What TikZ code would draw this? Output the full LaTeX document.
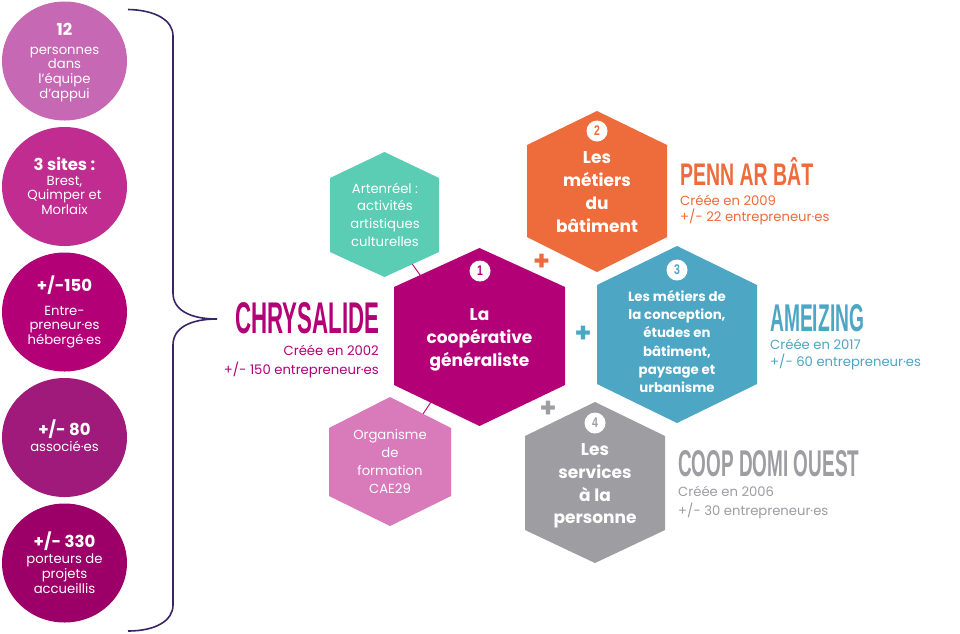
\documentclass[tikz,border=0pt]{standalone}
\usepackage{fontspec}
\usepackage{graphicx}
\setmainfont{Poppins}
\newfontfamily\titlefont{Liberation Sans}[UprightFont=* Bold]
\definecolor{cA}{HTML}{C768B5}
\definecolor{cB}{HTML}{C02C90}
\definecolor{cC}{HTML}{B30077}
\definecolor{cD}{HTML}{A01A7B}
\definecolor{cE}{HTML}{9C0068}
\definecolor{tealH}{HTML}{5BCDB5}
\definecolor{pinkH}{HTML}{D97ABB}
\definecolor{orangeH}{HTML}{EE6B3B}
\definecolor{blueH}{HTML}{4CA6C4}
\definecolor{grayH}{HTML}{9D9DA2}
\definecolor{braceC}{HTML}{3A2468}
\newcommand{\hexa}[9]{\fill[#2] (#3,#6)--(#5,#7)--(#5,#8)--(#3,#9)--(#4,#8)--(#4,#7)--cycle;\coordinate (#1) at (#3,{(#6+#9)/2});}
\newcommand{\fnt}[2]{\fontsize{#1}{#2}\selectfont}
\newcommand{\tl}[1]{{\bfseries\fnt{16.5}{16.5}#1}}
\newcommand{\dg}[1]{\scalebox{0.75}[1]{#1}}
\usetikzlibrary{shapes.geometric}
\tikzset{
 x=1pt,y=-1pt,
 bubble/.style={ellipse,fill=#1,minimum width=125pt,minimum height=119pt,inner sep=0pt},
 ctext/.style={text=white,align=center,inner sep=0pt,font=\fnt{13.2}{14.7}},
 hbold/.style={text=white,align=center,inner sep=0pt,font=\bfseries\fnt{17}{22.8}},
 hreg/.style={text=white,align=center,inner sep=0pt,font=\fnt{13.2}{17.7}},
 sub/.style={inner sep=0pt,font=\fnt{13.2}{18.5},text=#1},
 badge/.style={circle,fill=white,minimum size=21pt,inner sep=0pt,text=#1,font=\titlefont\fnt{14}{14}},
 plus/.style={inner sep=0pt,text=#1,font=\bfseries\fnt{27}{27}},
 title/.style={inner sep=0pt,text=#1,anchor=north west},
 link/.style={draw=cC,line width=0.9pt},
}
\begin{document}
\begin{tikzpicture}
\useasboundingbox (0,0) rectangle (960,633);
\fill[white] (0,0) rectangle (960,633);
% bubbles
\node[bubble=cA] (b1) at (64.5,61) {};
\node[bubble=cB] (b2) at (64.5,186.5) {};
\node[bubble=cC] (b3) at (64.5,312) {};
\node[bubble=cD] (b4) at (64.5,437.5) {};
\node[bubble=cE] (b5) at (64.5,563) {};
\node[ctext] (t1) at (64.5,62.5) {\tl{12}\\[4pt]personnes\\dans\\l’équipe\\d’appui};
\node[ctext] (t2) at (64.5,186) {\tl{3 sites :}\\Brest,\\Quimper et\\Morlaix};
\node[ctext] (t3) at (64.5,312) {\tl{+/-150}\\[9pt]Entre-\\preneur·es\\hébergé·es};
\node[ctext] (t4) at (64.5,436) {\tl{+/- 80}\\[1pt]associé·es};
\node[ctext] (t5) at (64.5,562.5) {\tl{+/- 330}\\[1.5pt]porteurs de\\projets\\accueillis};
% brace
\coordinate (brT) at (128,9.5);
\coordinate (brM) at (217,319);
\coordinate (brB) at (128,631);
\draw[braceC,line width=1.6pt] (brT) .. controls (155,10) and (173,20) .. (173,36) -- (173,293) .. controls (173,310) and (190,319) .. (brM) .. controls (190,319) and (173,328) .. (173,345) -- (173,605) .. controls (173,621) and (155,631) .. (brB);
% connectors
\coordinate (lkA) at (411.5,263);
\coordinate (lkB) at (421.5,277);
\coordinate (lkC) at (423,414);
\coordinate (lkD) at (431,402);
\draw[link] (lkA) -- (lkB);
\draw[link] (lkC) -- (lkD);
% hexagons
\hexa{hTeal}{tealH}{384.5}{330}{439}{152}{178}{252}{277}
\hexa{hPink}{pinkH}{390}{329}{451}{397}{428}{496}{526}
\hexa{hMain}{cC}{479.5}{394}{565}{248}{287}{385}{426}
\hexa{hOrange}{orangeH}{597}{527}{667}{111}{145}{237}{272}
\hexa{hBlue}{blueH}{677}{597}{757}{246}{285}{384}{423}
\hexa{hGray}{grayH}{595}{525}{665}{402}{436}{530}{563}
\node[hreg] (tTeal) at (385,214.5) {Artenréel :\\activités\\artistiques\\culturelles};
\node[hreg] (tPink) at (390,461.5) {Organisme\\de\\formation\\CAE29};
\node[hbold] (tMain) at (479.5,340) {La\\coopérative\\généraliste};
\node[hbold] (tOrange) at (597,192) {Les\\métiers\\du\\bâtiment};
\node[hbold,font=\bfseries\fnt{13.3}{18.2}] (tBlue) at (677,341.5) {Les métiers de\\la conception,\\études en\\bâtiment,\\paysage et\\urbanisme};
\node[hbold] (tGray) at (595,486) {Les\\services\\à la\\personne};
% badges
\node[badge=cC] (n1) at (480,271) {\dg{1}};
\node[badge=orangeH] (n2) at (597,131) {\dg{2}};
\node[badge=blueH] (n3) at (677,270) {\dg{3}};
\node[badge=grayH] (n4) at (595,423) {\dg{4}};
% plus
\node[plus=orangeH] (p1) at (541.5,262) {+};
\node[plus=blueH] (p2) at (583,334) {+};
\node[plus=grayH] (p3) at (548,409) {+};
% titles
\node[title=cC] (c1) at (235,302) {\resizebox{144pt}{31pt}{\titlefont CHRYSALIDE}};
\node[title=orangeH] (c2) at (680,157) {\resizebox{133pt}{28pt}{\titlefont PENN AR BÂT}};
\node[title=blueH] (c3) at (770,304) {\resizebox{94pt}{27pt}{\titlefont AMEIZING}};
\node[title=grayH] (c4) at (678,450) {\resizebox{181pt}{26pt}{\titlefont COOP DOMI OUEST}};
\node[sub=cC,align=right,anchor=east] (s1) at (379,361.5) {Créée en 2002\\+/- 150 entrepreneur·es};
\node[sub=orangeH,font=\fnt{13.2}{15.5},align=left,anchor=west] (s2) at (680,210) {Créée en 2009\\+/- 22 entrepreneur·es};
\node[sub=blueH,font=\fnt{13.2}{17.5},align=left,anchor=west] (s3) at (770,354.5) {Créée en 2017\\+/- 60 entrepreneur·es};
\node[sub=grayH,align=left,anchor=west] (s4) at (678,502.5) {Créée en 2006\\+/- 30 entrepreneur·es};
\end{tikzpicture}
\end{document}
